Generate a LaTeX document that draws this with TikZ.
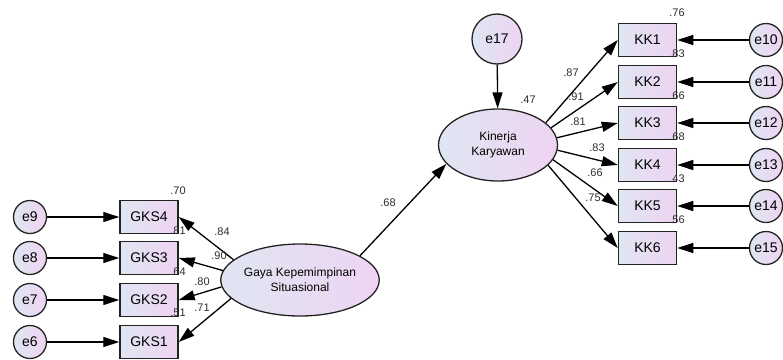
\documentclass[tikz,border=0pt]{standalone}
\usepackage{fontspec}
\setmainfont{Liberation Sans}
\usetikzlibrary{arrows.meta,shapes.geometric}
\definecolor{fillL}{RGB}{224,229,242}
\definecolor{fillR}{RGB}{238,212,242}
\definecolor{edgec}{RGB}{35,35,35}
\definecolor{numc}{RGB}{45,45,45}
\tikzset{
  obs/.style={draw=edgec, line width=1.5pt, left color=fillL, right color=fillR,
    minimum width=58pt, minimum height=33pt, inner sep=0pt, font=\fontsize{14}{14}\selectfont},
  err/.style={circle, draw=edgec, line width=1.3pt, left color=fillL, right color=fillR,
    minimum size=33pt, inner sep=0pt, font=\fontsize{14}{14}\selectfont},
  bigerr/.style={err, minimum size=50pt},
  lat/.style={ellipse, draw=edgec, line width=1.3pt, left color=fillL, right color=fillR,
    minimum width=119pt, minimum height=72pt, inner sep=0pt, align=center,
    font=\fontsize{12}{15}\selectfont},
  arr/.style={-{Triangle[length=16pt,width=10pt]}, line width=1.3pt, draw=black},
  lbl/.style={inner sep=0pt, text=numc, font=\fontsize{11}{11}\selectfont}
}
\begin{document}
\begin{tikzpicture}[x=1pt,y=-1pt]
\useasboundingbox (0,0) rectangle (783,359);
% left side
\node[err] (e9) at (30,217) {e9};
\node[err] (e8) at (30,258) {e8};
\node[err] (e7) at (30,300) {e7};
\node[err] (e6) at (30,342) {e6};
\node[obs] (g4) at (149,217) {GKS4};
\node[obs] (g3) at (149,258) {GKS3};
\node[obs] (g2) at (149,300) {GKS2};
\node[obs] (g1) at (149,342) {GKS1};
\node[lat] (gaya) at (300,280) {Gaya Kepemimpinan\\Situasional};
% right side
\node[bigerr] (e17) at (497,39) {e17};
\node[lat] (kin) at (498,145) {Kinerja\\Karyawan};
\node[obs] (k1) at (647.5,40) {KK1};
\node[obs] (k2) at (647.5,82) {KK2};
\node[obs] (k3) at (647.5,123) {KK3};
\node[obs] (k4) at (647.5,165) {KK4};
\node[obs] (k5) at (647.5,206) {KK5};
\node[obs] (k6) at (647.5,248) {KK6};
\node[err] (e10) at (766,40) {e10};
\node[err] (e11) at (766,82) {e11};
\node[err] (e12) at (766,123) {e12};
\node[err] (e13) at (766,165) {e13};
\node[err] (e14) at (766,206) {e14};
\node[err] (e15) at (766,248) {e15};
% connectors
\draw[arr] (e9) -- (g4);
\draw[arr] (e8) -- (g3);
\draw[arr] (e7) -- (g2);
\draw[arr] (e6) -- (g1);
\draw[arr] (gaya.163) -- (g4.east);
\draw[arr] (gaya.173) -- (g3.east);
\draw[arr] (gaya.185) -- (g2.east);
\draw[arr] (gaya.195) -- (g1.east);
\draw[arr] (gaya.22) -- (kin.200);
\draw[arr] (e17) -- (kin);
\draw[arr] (kin.25) -- (k1.west);
\draw[arr] (kin.18) -- (k2.west);
\draw[arr] (kin.7) -- (k3.west);
\draw[arr] (kin.-5) -- (k4.west);
\draw[arr] (kin.-15) -- (k5.west);
\draw[arr] (kin.-22) -- (k6.west);
\draw[arr] (e10) -- (k1);
\draw[arr] (e11) -- (k2);
\draw[arr] (e12) -- (k3);
\draw[arr] (e13) -- (k4);
\draw[arr] (e14) -- (k5);
\draw[arr] (e15) -- (k6);
% labels
\node[lbl] (l70) at (178,191) {.70};
\node[lbl] (l81) at (178,231) {.81};
\node[lbl] (l64) at (178,272) {.64};
\node[lbl] (l51) at (178,313) {.51};
\node[lbl] (l84) at (222,232) {.84};
\node[lbl] (l90) at (219,256) {.90};
\node[lbl] (l80) at (202,282) {.80};
\node[lbl] (l71) at (202,308) {.71};
\node[lbl] (l68) at (388,203) {.68};
\node[lbl] (l47) at (528,100) {.47};
\node[lbl] (l87) at (571,73) {.87};
\node[lbl] (l91) at (576,97) {.91};
\node[lbl] (l81b) at (578,122) {.81};
\node[lbl] (l83) at (597,148) {.83};
\node[lbl] (l66) at (595,173) {.66};
\node[lbl] (l75) at (593,198) {.75};
\node[lbl] (r76) at (677,13) {.76};
\node[lbl] (r83) at (677,54) {.83};
\node[lbl] (r66) at (677,96) {.66};
\node[lbl] (r68) at (677,137) {.68};
\node[lbl] (r43) at (677,179) {.43};
\node[lbl] (r56) at (677,220) {.56};
\end{tikzpicture}
\end{document}
